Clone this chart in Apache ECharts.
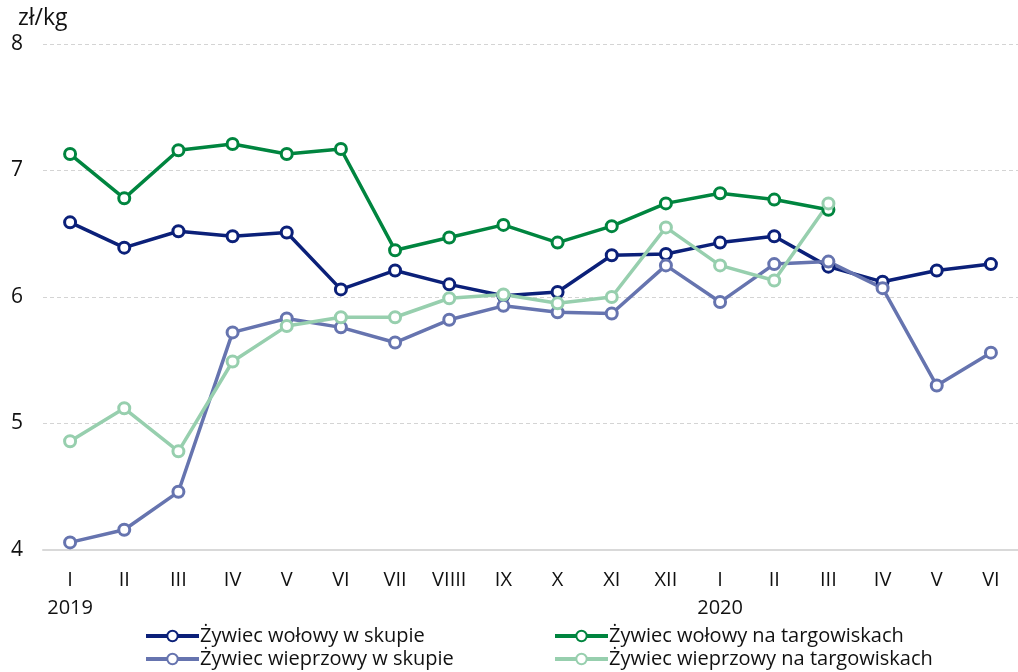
<!DOCTYPE html>
<html><head><meta charset="utf-8">
<script src="https://cdn.jsdelivr.net/npm/echarts@6/dist/echarts.min.js"></script>
<style>html,body{margin:0;padding:0;background:#fff}#c{width:1018px;height:672px}</style>
</head><body><div id="c"></div>
<script>
const months = ['I','II','III','IV','V','VI','VII','VIIII','IX','X','XI','XII','I','II','III','IV','V','VI'];
const years = ['2019','','','','','','','','','','','','2020','','','','',''];
const beefSkup = [6.59,6.39,6.52,6.48,6.51,6.06,6.21,6.10,6.01,6.04,6.33,6.34,6.43,6.48,6.24,6.12,6.21,6.26];
const beefTarg = [7.13,6.78,7.16,7.21,7.13,7.17,6.37,6.47,6.57,6.43,6.56,6.74,6.82,6.77,6.69];
const porkSkup = [4.06,4.16,4.46,5.72,5.83,5.76,5.64,5.82,5.93,5.88,5.87,6.25,5.96,6.26,6.28,6.07,5.30,5.56];
const porkTarg = [4.86,5.12,4.78,5.49,5.77,5.84,5.84,5.99,6.02,5.95,6.00,6.55,6.25,6.13,6.74];
const names = ['Żywiec wołowy w skupie','Żywiec wołowy na targowiskach','Żywiec wieprzowy w skupie','Żywiec wieprzowy na targowiskach'];
const colors = ['#0b2079','#00853f','#6674af','#97cfae'];
const FONT = 'Open Sans';
const chart = echarts.init(document.getElementById('c'));
const mk = (i, data) => ({
  name: names[i], type: 'line', data: data,
  symbol: 'circle', symbolSize: 11,
  lineStyle: {color: colors[i], width: 3.5},
  itemStyle: {color: '#fff', borderColor: colors[i], borderWidth: 3},
  emphasis: {disabled: true}, animation: false
});
const legendBase = {orient: 'vertical', itemWidth: 53, itemHeight: 13, itemGap: 3, height: 120,
  lineStyle: {width: 4},
  textStyle: {fontFamily: FONT, fontSize: 20, color: '#111', padding: [0,0,0,-4]}, selectedMode: false};
chart.setOption({
  animation: false,
  title: {text: 'zł/kg', left: 13, top: 2, textStyle: {fontFamily: FONT, fontSize: 23, fontWeight: 'normal', color: '#111'}},
  grid: {left: 43, right: -2, top: 44, bottom: 122},
  legend: [
    Object.assign({}, legendBase, {left: 139, top: 621, data: [names[0], names[2]]}),
    Object.assign({}, legendBase, {left: 548, top: 621, data: [names[1], names[3]]})
  ],
  xAxis: {type: 'category', data: months, boundaryGap: true,
    axisLine: {lineStyle: {color: '#d9d9d9', width: 2}}, axisTick: {show: false},
    axisLabel: {fontFamily: FONT, fontSize: 20, color: '#111', margin: 16, lineHeight: 28, interval: 0,
      formatter: (v, i) => years[i] ? v + '\n' + years[i] : v}},
  yAxis: {type: 'value', min: 4, max: 8, interval: 1,
    axisLine: {show: false}, axisTick: {show: false},
    splitLine: {lineStyle: {color: '#d4d4d4', type: [4,3], width: 1}},
    axisLabel: {fontFamily: FONT, fontSize: 21, color: '#111', margin: 20}},
  series: [mk(0, beefSkup), mk(1, beefTarg), mk(2, porkSkup), mk(3, porkTarg)]
});
</script></body></html>
